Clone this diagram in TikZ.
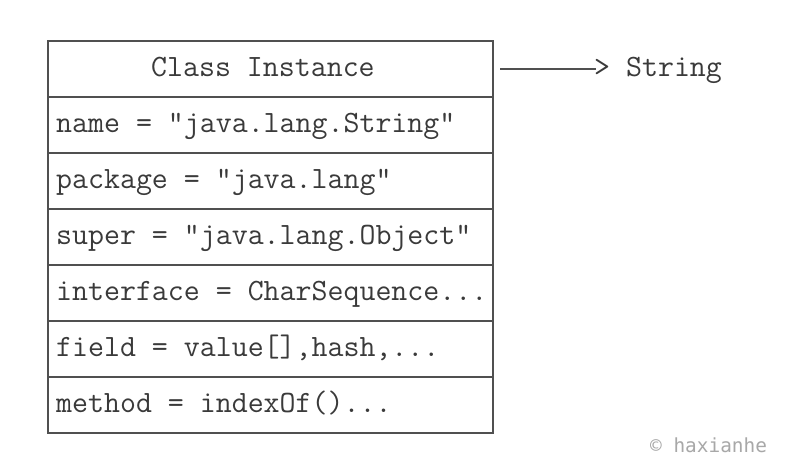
\documentclass[tikz,border=0pt]{standalone}
\usepackage{fontspec}
\newfontfamily\cpfont{DejaVu Sans Mono}
\definecolor{linec}{HTML}{505050}
\definecolor{textc}{HTML}{3A3A3A}
\definecolor{cpc}{HTML}{A8A8A8}
\begin{document}
\begin{tikzpicture}[x=1pt,y=-1pt,
  rowbox/.style={draw=linec, line width=1.6pt, minimum width=445pt, minimum height=56pt, inner sep=0pt, outer sep=0pt, anchor=north west},
  rowtext/.style={anchor=base west, inner sep=0pt, text=textc, font=\fontsize{31pt}{33pt}\selectfont\ttfamily}]
\useasboundingbox (0,0) rectangle (790,476);
\fill[white] (0,0) rectangle (790,476);
\foreach \i/\y in {1/41,2/97,3/153,4/209,5/265,6/321,7/377}{
  \node[rowbox] (r\i) at (48,\y) {};
}
\node[rowtext] (t1) at (151,76.5) {Class Instance};
\node[rowtext] (t2) at (56,132.5) {name = "java.lang.String"};
\node[rowtext] (t3) at (56,188.5) {package = "java.lang"};
\node[rowtext] (t4) at (56,244.5) {super = "java.lang.Object"};
\node[rowtext] (t5) at (56,300.5) {interface = CharSequence...};
\node[rowtext] (t6) at (56,356.5) {field = value[],hash,...};
\node[rowtext] (t7) at (56,412.5) {method = indexOf()...};
\node[rowtext] (str) at (594,76.5) {> String};
\coordinate (aend) at (596,69);
\draw[linec, line width=1.3pt] ([xshift=7pt]r1.east) -- (aend);
\node[anchor=base west, inner sep=0pt, text=cpc, font=\fontsize{19.4pt}{22pt}\selectfont\cpfont] (cp) at (650,452) {© haxianhe};
\end{tikzpicture}
\end{document}
